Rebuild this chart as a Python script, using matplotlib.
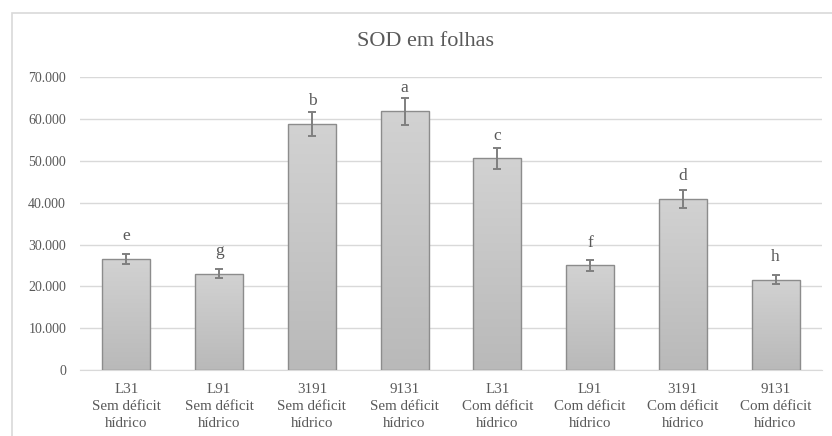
import numpy as np
import matplotlib
matplotlib.use("Agg")
from matplotlib import pyplot as plt
from matplotlib.patches import Rectangle
from matplotlib.ticker import FuncFormatter

plt.rcParams['font.family'] = ['Liberation Serif', 'DejaVu Serif']

cultivares = ['L31', 'L91', '3191', '9131', 'L31', 'L91', '3191', '9131']
condicao = ['Sem déficit\nhídrico'] * 4 + ['Com déficit\nhídrico'] * 4
sod = [26500, 23000, 58800, 61900, 50600, 25000, 40900, 21600]
erro = [1200, 1100, 2900, 3200, 2500, 1300, 2100, 1150]
letras = ['e', 'g', 'b', 'a', 'c', 'f', 'd', 'h']

txt = '#595959'

fig = plt.figure(figsize=(8.32, 4.36), dpi=100)
# moldura do grafico (so topo e esquerda aparecem)
fig.add_artist(Rectangle((12/832, -0.1), 1.0, 1 - 13/436 + 0.1, transform=fig.transFigure,
                         fill=False, edgecolor='#d9d9d9', lw=1.2))

ax = fig.add_axes([80/832, 1 - 370/436, 742/832, (370 - 77.3)/436])
x = np.arange(len(sod))
bars = ax.bar(x, sod, width=0.52, color='none', edgecolor='#8c8c8c', lw=1.0, zorder=3)

# preenchimento em degrade
grad = np.linspace(0, 1, 256).reshape(-1, 1)
cmap = matplotlib.colors.LinearSegmentedColormap.from_list('g', ['#b9b9b9', '#d2d2d2'])
for b in bars:
    im = ax.imshow(grad, cmap=cmap, aspect='auto', origin='lower',
                   extent=[b.get_x(), b.get_x() + b.get_width(), 0, b.get_height()], zorder=2)
    im.set_clip_path(b)

ax.errorbar(x, sod, yerr=erro, fmt='none', ecolor='#7f7f7f', elinewidth=1.4,
            capsize=3.2, capthick=1.4, zorder=4)

# letras da comparacao de medias
for xi, v, l in zip(x, sod, letras):
    ax.annotate(l, (xi, v), xytext=(0, 13.5), textcoords='offset points',
                ha='center', va='baseline', fontsize=12.5, color=txt)

ax.set_xlim(-0.5, 7.5)
ax.set_ylim(0, 70000)
ax.set_yticks(np.arange(0, 70001, 10000))
ax.yaxis.set_major_formatter(FuncFormatter(lambda v, p: '0' if v == 0 else f'{int(v):,}'.replace(',', '.')))
ax.set_xticks(x)
ax.set_xticklabels([c + '\n' + s for c, s in zip(cultivares, condicao)], fontsize=10.8,
                   color=txt, linespacing=1.4)
ax.tick_params(axis='y', labelsize=10, colors=txt, length=0, pad=10)
ax.tick_params(axis='x', length=0, pad=9)
ax.grid(axis='y', color='#d9d9d9', lw=1.0, zorder=0)
ax.set_axisbelow(True)
for s in ['top', 'right', 'left']:
    ax.spines[s].set_visible(False)
ax.spines['bottom'].set_color('#d9d9d9')
ax.spines['bottom'].set_zorder(1)

fig.text(426/832, 1 - 42/436, 'SOD em folhas', ha='center', va='center', fontsize=16, color=txt)

fig.savefig('out.png', dpi=100)
